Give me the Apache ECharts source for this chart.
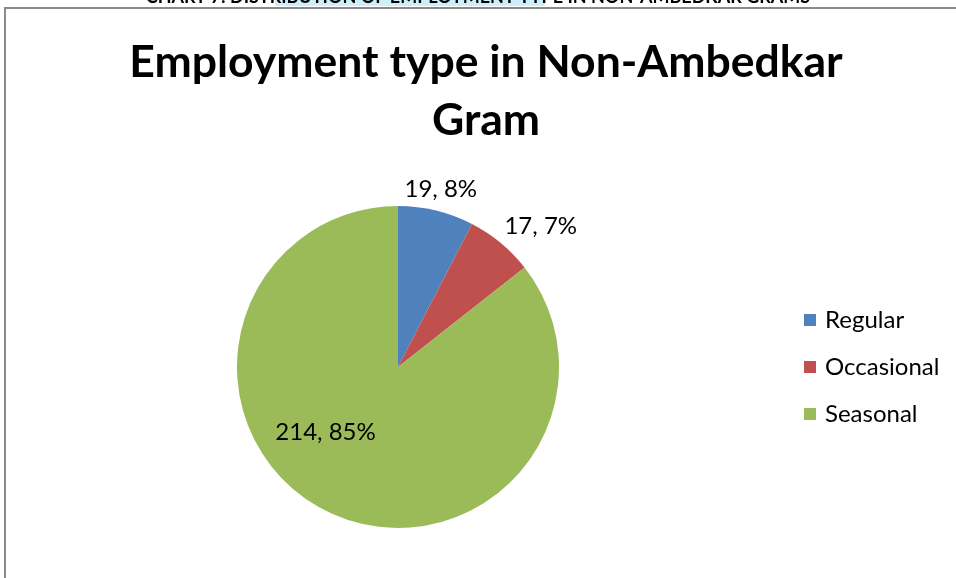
<!DOCTYPE html>
<html>
<head>
<meta charset="utf-8">
<script src="https://cdn.jsdelivr.net/npm/echarts@6/dist/echarts.min.js"></script>
<style>
  html, body { margin: 0; padding: 0; background: #fff; }
  #chart { width: 956px; height: 578px; }
</style>
</head>
<body>
<div id="chart"></div>
<script>
// Employment type counts for Non-Ambedkar Gram
const categories = ['Regular', 'Occasional', 'Seasonal'];
const counts = [19, 17, 214];
const sliceColors = ['#4F81BD', '#C0504D', '#9BBB59'];
const chartTitle = 'Employment type in Non-Ambedkar\nGram';
const captionText = 'CHART 7: DISTRIBUTION OF EMPLOYMENT TYPE IN NON-AMBEDKAR GRAMS';

// per-slice label placement
const labelStyles = [
  { position: 'outside', offset: [-38, -15] },
  { position: 'outside', offset: [-5, -12] },
  { position: 'inside', offset: [-36, -10] }
];

const chart = echarts.init(document.getElementById('chart'), null, { renderer: 'canvas' });

const pieData = categories.map((name, i) => ({
  name: name,
  value: counts[i],
  itemStyle: { color: sliceColors[i] },
  label: labelStyles[i]
}));

chart.setOption({
  backgroundColor: '#ffffff',
  animation: false,
  title: {
    text: chartTitle,
    left: 481,
    top: 29,
    textAlign: 'center',
    textStyle: {
      fontFamily: 'Lato',
      fontWeight: 'bold',
      fontSize: 44.5,
      lineHeight: 58,
      color: '#000'
    }
  },
  legend: {
    orient: 'vertical',
    left: 799,
    top: 303,
    itemWidth: 12,
    itemHeight: 12,
    itemGap: 23,
    icon: 'rect',
    data: categories,
    textStyle: { fontFamily: 'Lato', fontSize: 24, color: '#000', padding: [0, 0, 0, 4] }
  },
  graphic: [
    {
      type: 'rect',
      z: -10,
      shape: { x: 275, y: -2, width: 270, height: 8 },
      style: { fill: '#cdeffb' }
    },
    {
      type: 'text',
      z: -5,
      left: 'center',
      top: -12,
      style: { text: captionText, font: 'bold 18px Lato', fill: '#000' }
    },
    {
      type: 'rect',
      z: -1,
      shape: { x: 5, y: 8, width: 1000, height: 1000 },
      style: { fill: 'none', stroke: '#8a8a8a', lineWidth: 2 }
    }
  ],
  series: [
    {
      type: 'pie',
      center: [398, 367],
      radius: 161,
      startAngle: 90,
      clockwise: true,
      percentPrecision: 0,
      data: pieData,
      label: {
        show: true,
        formatter: '{c}, {d}%',
        fontFamily: 'Lato',
        fontSize: 24,
        color: '#000'
      },
      labelLine: { show: false, length: 6, length2: 0 },
      emphasis: { disabled: true }
    }
  ]
});
</script>
</body>
</html>
